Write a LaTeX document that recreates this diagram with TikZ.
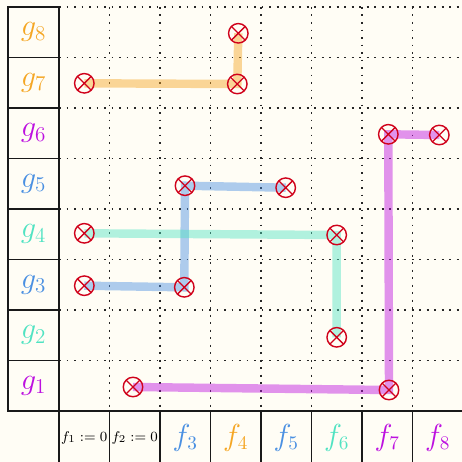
\documentclass[tikz,border=0pt]{standalone}
\definecolor{bgc}{RGB}{255,253,245}
\definecolor{korange}{HTML}{F5A623}
\definecolor{kpurple}{HTML}{BD10E0}
\definecolor{kblue}{HTML}{4A90E2}
\definecolor{kteal}{HTML}{50E3C2}
\definecolor{kred}{HTML}{D0021B}
\pgfdeclarelayer{bglayer}
\pgfdeclarelayer{linelayer}
\pgfsetlayers{bglayer,linelayer,main}
\tikzset{
  solidline/.style={line width=1.1pt, draw=black!90},
  dotline/.style={line width=1.1pt, draw=black!85, dash pattern=on 1.1pt off 3.17pt},
  glabel/.style={inner sep=0pt, font=\fontsize{17.5}{21}\selectfont},
  flabel/.style={inner sep=0pt, font=\fontsize{16}{19}\selectfont},
  zlabel/.style={inner sep=0pt, font=\fontsize{8.1}{9.7}\selectfont},
  marker/.style={circle, draw=kred, line width=0.8pt, minimum size=0.39cm, inner sep=0pt,
    path picture={\draw[kred, line width=0.75pt]
      (path picture bounding box.north west) -- (path picture bounding box.south east)
      (path picture bounding box.north east) -- (path picture bounding box.south west);}},
  track/.style={line width=4.8pt, draw opacity=0.45, line join=miter, line cap=butt}
}
\begin{document}
\begin{tikzpicture}[x=0.02cm,y=-0.02cm]
\useasboundingbox (0,0) rectangle (462,462);
\begin{pgfonlayer}{bglayer}
\fill[bgc] (0,0) rectangle (462,462);
% dotted grid
\foreach \k in {0,...,7} {
  \draw[dotline] (59,{7+50.5*\k}) -- (466,{7+50.5*\k});
}
\foreach \k in {1,...,8} {
  \draw[dotline] ({59+50.5*\k},7) -- ({59+50.5*\k},411);
}
% solid frames
\draw[solidline] (8,7) rectangle (59,411);
\foreach \k in {1,...,7} {
  \draw[solidline] (8,{7+50.5*\k}) -- (59,{7+50.5*\k});
}
\draw[solidline] (8,411) -- (466,411);
\foreach \k in {0,...,8} {
  \draw[solidline] ({59+50.5*\k},411) -- ({59+50.5*\k},470);
}
\end{pgfonlayer}

% row labels
\node[glabel, text=kpurple] (g1) at (33.5,385.75) {$g_1$};
\node[glabel, text=kteal]   (g2) at (33.5,335.25) {$g_2$};
\node[glabel, text=kblue]   (g3) at (33.5,284.75) {$g_3$};
\node[glabel, text=kteal]   (g4) at (33.5,234.25) {$g_4$};
\node[glabel, text=kblue]   (g5) at (33.5,183.75) {$g_5$};
\node[glabel, text=kpurple] (g6) at (33.5,133.25) {$g_6$};
\node[glabel, text=korange] (g7) at (33.5,82.75)  {$g_7$};
\node[glabel, text=korange] (g8) at (33.5,32.25)  {$g_8$};

% column labels
\node[zlabel] (f1) at (84.25,437.5) {$f_1 := 0$};
\node[zlabel] (f2) at (134.75,437.5) {$f_2 := 0$};
\node[flabel, text=kblue]   (f3) at (185.25,437.5) {$f_3$};
\node[flabel, text=korange] (f4) at (235.75,437.5) {$f_4$};
\node[flabel, text=kblue]   (f5) at (286.25,437.5) {$f_5$};
\node[flabel, text=kteal]   (f6) at (336.75,437.5) {$f_6$};
\node[flabel, text=kpurple] (f7) at (387.25,437.5) {$f_7$};
\node[flabel, text=kpurple] (f8) at (437.75,437.5) {$f_8$};

% markers
\node[marker] (m17) at (84.3,83.3) {};
\node[marker] (m47) at (237.3,84) {};
\node[marker] (m48) at (238.3,33.3) {};
\node[marker] (m76) at (388.3,134.3) {};
\node[marker] (m86) at (439.3,135) {};
\node[marker] (m71) at (389,390) {};
\node[marker] (m21) at (133,387) {};
\node[marker] (m35) at (185,185.7) {};
\node[marker] (m55) at (285.7,187.7) {};
\node[marker] (m13) at (84.3,285.7) {};
\node[marker] (m33) at (184.3,287.3) {};
\node[marker] (m14) at (84.3,233.3) {};
\node[marker] (m64) at (336.7,235) {};
\node[marker] (m62) at (336.7,337.3) {};

\begin{pgfonlayer}{linelayer}
\draw[track, korange] (m17.center) -- (m47.center) -- (m48.center);
\draw[track, kpurple] (m86.center) -- (m76.center) -- (m71.center) -- (m21.center);
\draw[track, kblue] (m13.center) -- (m33.center) -- (m35.center) -- (m55.center);
\draw[track, kteal] (m14.center) -- (m64.center) -- (m62.center);
\end{pgfonlayer}
\end{tikzpicture}
\end{document}
